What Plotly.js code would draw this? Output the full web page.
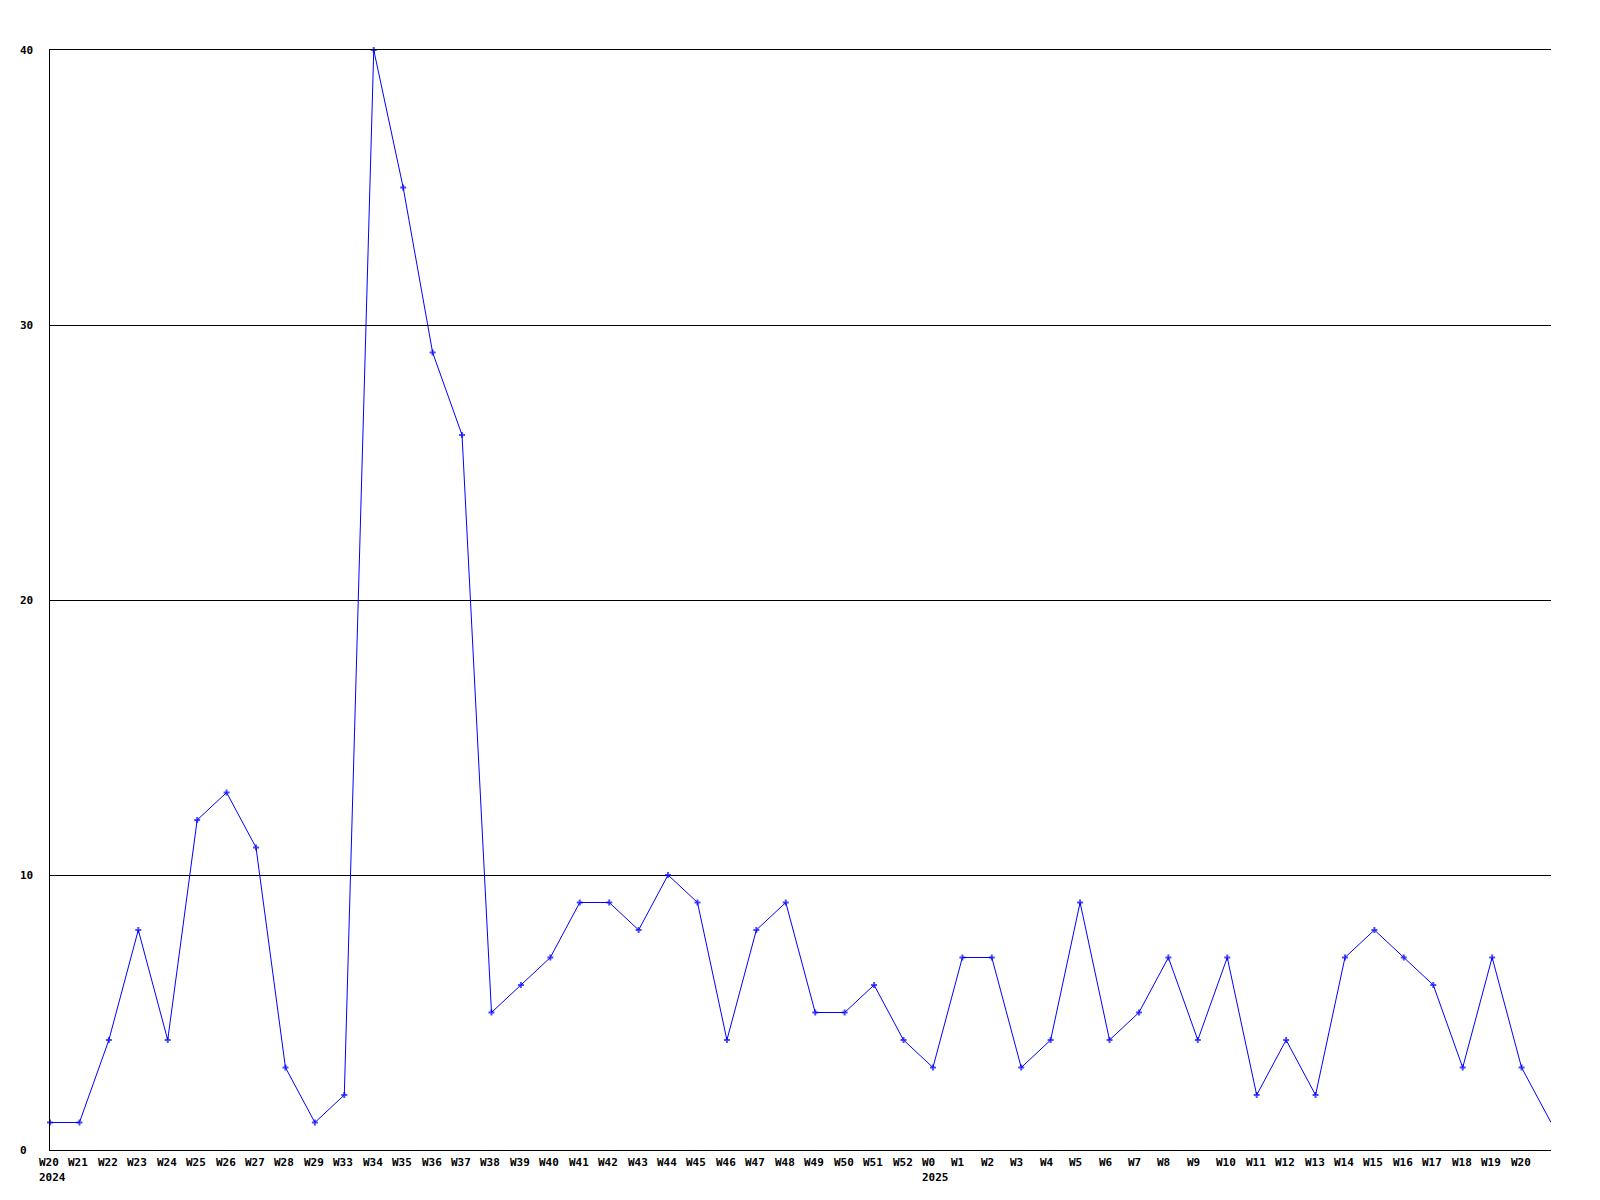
<!DOCTYPE html>
<html>
<head>
<meta charset="utf-8">
<script src="https://cdn.plot.ly/plotly-3.0.1.min.js"></script>
<style>html,body{margin:0;padding:0;background:#fff;}</style>
</head>
<body>
<div id="chart" style="width:1600px;height:1200px;"></div>
<script>
// Week labels (the final point at the right edge has no label)
const weekLabels = ["W20","W21","W22","W23","W24","W25","W26","W27","W28","W29","W33","W34","W35","W36","W37","W38","W39","W40","W41","W42","W43","W44","W45","W46","W47","W48","W49","W50","W51","W52","W0","W1","W2","W3","W4","W5","W6","W7","W8","W9","W10","W11","W12","W13","W14","W15","W16","W17","W18","W19","W20",""];
const counts = [1,1,4,8,4,12,13,11,3,1,2,40,35,29,26,5,6,7,9,9,8,10,9,4,8,9,5,5,6,4,3,7,7,3,4,9,4,5,7,4,7,2,4,2,7,8,7,6,3,7,3,1];
const yearIndex = [0, 30];
const yearText = ["2024", "2025"];
const yTicks = [0, 10, 20, 30, 40];

const xs = counts.map((_, i) => i);
const lastIdx = counts.length - 1;
const font = {family: "DejaVu Sans Mono", size: 11, color: "#000", weight: "bold"};

const annotations = [];
weekLabels.forEach((t, i) => {
  if (!t) return;
  annotations.push({x: i, y: 0, xref: "x", yref: "paper", text: "<b>" + t + "</b>", showarrow: false,
    xanchor: "left", yanchor: "middle", xshift: -13, yshift: -12, font: font});
});
yearIndex.forEach((idx, k) => {
  annotations.push({x: idx, y: 0, xref: "x", yref: "paper", text: "<b>" + yearText[k] + "</b>", showarrow: false,
    xanchor: "left", yanchor: "middle", xshift: -13, yshift: -27, font: font});
});
yTicks.forEach(v => {
  annotations.push({x: 0, y: v, xref: "paper", yref: "y", text: "<b>" + v + "</b>", showarrow: false,
    xanchor: "left", yanchor: "middle", xshift: -32, font: font});
});

const trace = {
  x: xs, y: counts, type: "scatter", mode: "lines+markers",
  line: {color: "#0000ff", width: 1},
  marker: {color: "#0000ff", symbol: "cross", size: counts.map((_, i) => i === lastIdx ? 0 : 5), line: {width: 0}},
  cliponaxis: false, hoverinfo: "none"
};

const layout = {
  width: 1600, height: 1200,
  margin: {l: 50, r: 49, t: 50, b: 50},
  paper_bgcolor: "#fff", plot_bgcolor: "#fff",
  showlegend: false,
  xaxis: {range: [0, lastIdx], showgrid: false, zeroline: false, showline: true, mirror: true, linecolor: "#000", linewidth: 1,
    showticklabels: false, ticks: "", fixedrange: true},
  yaxis: {range: [0, 40], tickvals: [10, 20, 30, 40], showgrid: true, gridcolor: "#000", gridwidth: 1,
    zeroline: false, showline: true, linecolor: "#000", linewidth: 1, showticklabels: false, ticks: "", fixedrange: true},
  annotations: annotations
};

Plotly.newPlot("chart", [trace], layout, {staticPlot: true, displayModeBar: false});
</script>
</body>
</html>
